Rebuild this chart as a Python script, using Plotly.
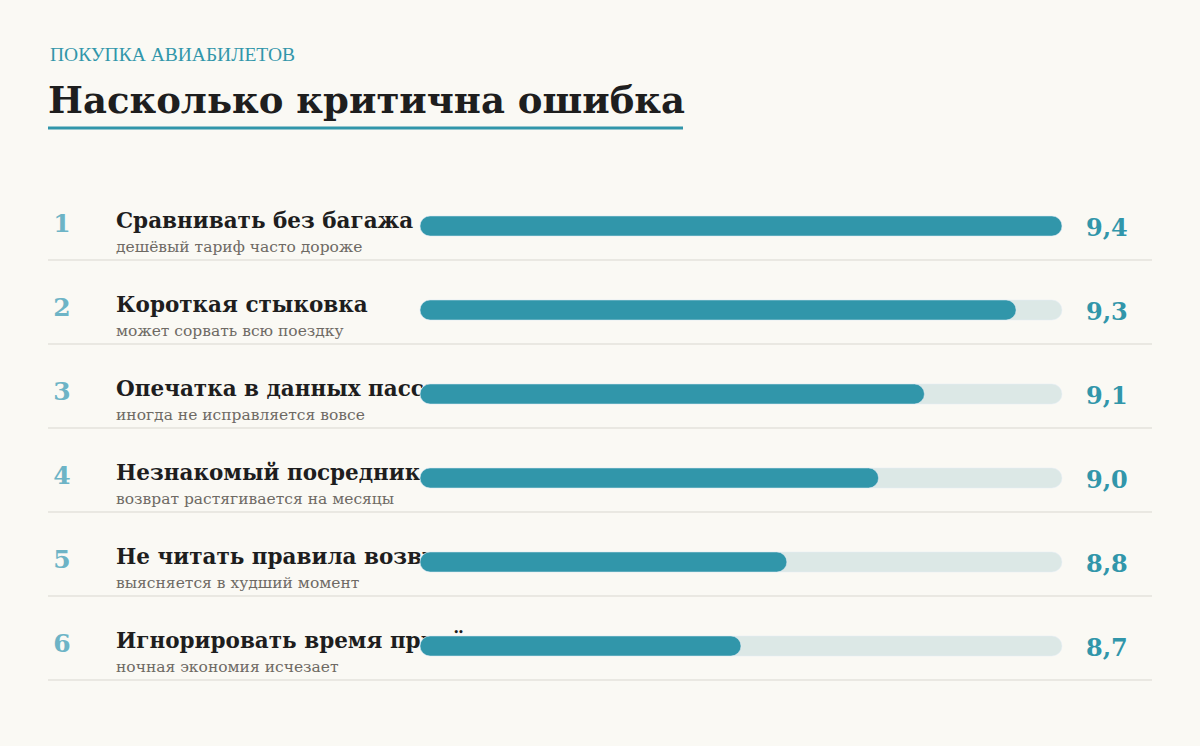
import plotly.graph_objects as go

# data
ranks = ["1", "2", "3", "4", "5", "6"]
labels = ["Сравнивать без багажа",
          "Короткая стыковка",
          "Опечатка в данных пассажира",
          "Незнакомый посредник",
          "Не читать правила возврата",
          "Игнорировать время прилёта"]
sublabels = ["дешёвый тариф часто дороже",
             "может сорвать всю поездку",
             "иногда не исправляется вовсе",
             "возврат растягивается на месяцы",
             "выясняется в худший момент",
             "ночная экономия исчезает"]
scores = [9.4, 9.3, 9.1, 9.0, 8.8, 8.7]
score_min = 8.0
score_max = 9.4

# layout constants (pixels)
W, H = 1200, 746
row_top = 226
row_step = 84
bar_left, bar_right = 420, 1062
bar_px = 20

bg = "#faf9f4"
teal = "#3196aa"
track = "#dce8e6"
rank_color = "#6db4c6"
ink = "#1e1e1e"
grey = "#6e6a64"
rule = "#d9d7d0"
serif = "DejaVu Serif, Georgia, serif"

rows = list(range(len(labels)))
y_range = [(H - row_top) / row_step, -row_top / row_step]
px_per_unit = (bar_right - bar_left) / (score_max - score_min)
x2_range = [score_min - bar_left / px_per_unit,
            score_max + (W - bar_right) / px_per_unit]

fig = go.Figure()

# text layer (drawn under the bars)
fig.add_trace(go.Scatter(x=[62] * len(rows), y=[r + 0.0 for r in rows],
                         mode="text", text=ranks, textposition="middle center",
                         textfont=dict(family=serif, size=25, color=rank_color,
                                       weight="bold"),
                         hoverinfo="skip", showlegend=False))
fig.add_trace(go.Scatter(x=[116] * len(rows), y=[r - 0.035 for r in rows],
                         mode="text", text=labels, textposition="middle right",
                         textfont=dict(family=serif, size=21.5, color=ink,
                                       weight="bold"),
                         hoverinfo="skip", showlegend=False))
fig.add_trace(go.Scatter(x=[116] * len(rows), y=[r + 0.26 for r in rows],
                         mode="text", text=sublabels, textposition="middle right",
                         textfont=dict(family=serif, size=15.5, color=grey),
                         hoverinfo="skip", showlegend=False))
fig.add_trace(go.Scatter(x=[1086] * len(rows), y=[r + 0.05 for r in rows],
                         mode="text",
                         text=["{:.1f}".format(v).replace(".", ",") for v in scores],
                         textposition="middle right",
                         textfont=dict(family=serif, size=24, color=teal,
                                       weight="bold"),
                         hoverinfo="skip", showlegend=False))

# bars on the overlaying axes
bar_w = bar_px / row_step
fig.add_trace(go.Bar(y=rows, x=[score_max - score_min] * len(rows),
                     base=[score_min] * len(rows), orientation="h",
                     width=bar_w, marker=dict(color=track, cornerradius=bar_px // 2),
                     xaxis="x2", yaxis="y2", hoverinfo="skip", showlegend=False))
fig.add_trace(go.Bar(y=rows, x=[v - score_min for v in scores],
                     base=[score_min] * len(rows), orientation="h",
                     width=bar_w, marker=dict(color=teal, cornerradius=bar_px // 2),
                     xaxis="x2", yaxis="y2", hoverinfo="skip", showlegend=False))

# row separators
for r in rows:
    fig.add_shape(type="line", xref="paper", yref="y",
                  x0=48 / W, x1=1152 / W, y0=r + 34 / row_step, y1=r + 34 / row_step,
                  line=dict(color=rule, width=1), layer="below")

# header
fig.add_annotation(text="ПОКУПКА АВИАБИЛЕТОВ", xref="paper", yref="paper",
                   x=48 / W, y=1 - 55 / H, xanchor="left", yanchor="middle",
                   showarrow=False,
                   font=dict(family="Liberation Serif, serif", size=19.5, color=teal))
fig.add_annotation(text="Насколько критична ошибка", xref="paper", yref="paper",
                   x=46 / W, y=1 - 100 / H, xanchor="left", yanchor="middle",
                   showarrow=False,
                   font=dict(family=serif, size=37, color=ink, weight="bold"))
fig.add_shape(type="line", xref="paper", yref="paper",
              x0=48 / W, x1=683 / W, y0=1 - 128 / H, y1=1 - 128 / H,
              line=dict(color=teal, width=3))

fig.update_layout(
    width=W, height=H,
    margin=dict(l=0, r=0, t=0, b=0),
    paper_bgcolor=bg, plot_bgcolor="rgba(0,0,0,0)",
    barmode="overlay",
    xaxis=dict(range=[0, W], domain=[0, 1], visible=False, fixedrange=True),
    yaxis=dict(range=y_range, domain=[0, 1], visible=False, fixedrange=True),
    xaxis2=dict(range=x2_range, overlaying="x", anchor="y2", visible=False,
                fixedrange=True),
    yaxis2=dict(range=y_range, overlaying="y", anchor="x2", visible=False,
                fixedrange=True),
)

fig.write_html("out.html", config={"displayModeBar": False},
               post_script="document.body.style.margin='0';"
                           "document.body.style.background='" + bg + "';")
